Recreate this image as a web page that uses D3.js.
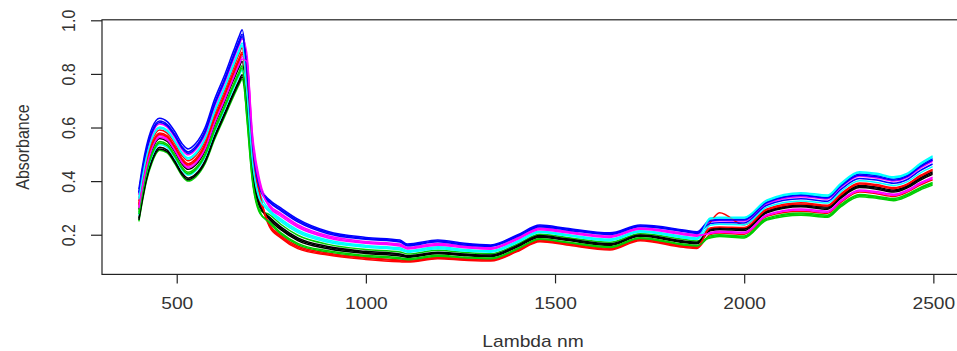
<!DOCTYPE html>
<html>
<head>
<meta charset="utf-8">
<script src="https://cdn.jsdelivr.net/npm/d3@7"></script>
<style>
  html, body { margin: 0; padding: 0; background: #fff; }
  svg { display: block; }
  text { font-family: "Liberation Sans", Arial, Helvetica, sans-serif; fill: #333; }
</style>
</head>
<body>
<svg id="chart" width="957" height="351"></svg>
<script>
// ---- data ----
const wavelengths = [400, 410, 420, 435, 455, 475, 495, 515, 530, 550, 575, 600, 625, 650, 665, 673, 685, 700, 720, 745, 775, 820, 900, 1000, 1090, 1110, 1190, 1260, 1330, 1400, 1460, 1530, 1645, 1725, 1840, 1875, 1910, 1935, 2000, 2060, 2150, 2220, 2255, 2305, 2350, 2395, 2430, 2465, 2498];

const spectrum01 = [0.261, 0.342, 0.412, 0.482, 0.526, 0.516, 0.476, 0.429, 0.411, 0.426, 0.477, 0.569, 0.649, 0.730, 0.776, 0.797,
  0.705, 0.449, 0.313,
  0.257, 0.219, 0.178, 0.148, 0.130, 0.121, 0.116, 0.129, 0.122, 0.118, 0.154, 0.191, 0.179, 0.160, 0.194, 0.171, 0.166,
  0.215, 0.219, 0.216, 0.282, 0.304, 0.295, 0.336, 0.376, 0.370, 0.359, 0.374, 0.403, 0.425];
const spectrum02 = [0.315, 0.401, 0.471, 0.541, 0.580, 0.569, 0.530, 0.483, 0.465, 0.483, 0.539, 0.637, 0.720, 0.808, 0.858, 0.881,
  0.771, 0.498, 0.345,
  0.230, 0.188, 0.148, 0.124, 0.108, 0.099, 0.098, 0.110, 0.105, 0.102, 0.137, 0.174, 0.162, 0.143, 0.178, 0.153, 0.149,
  0.201, 0.206, 0.202, 0.269, 0.288, 0.280, 0.320, 0.359, 0.353, 0.343, 0.358, 0.385, 0.405];
const spectrum03 = [0.250, 0.330, 0.400, 0.470, 0.515, 0.505, 0.465, 0.418, 0.400, 0.415, 0.465, 0.555, 0.635, 0.715, 0.760, 0.780,
  0.662, 0.416, 0.291,
  0.275, 0.239, 0.198, 0.164, 0.145, 0.136, 0.128, 0.142, 0.134, 0.129, 0.165, 0.202, 0.190, 0.172, 0.204, 0.183, 0.177,
  0.188, 0.193, 0.188, 0.255, 0.273, 0.265, 0.304, 0.342, 0.336, 0.327, 0.342, 0.367, 0.385];
const spectrum04 = [0.370, 0.460, 0.530, 0.600, 0.635, 0.622, 0.585, 0.538, 0.520, 0.540, 0.600, 0.705, 0.790, 0.885, 0.940, 0.965,
  0.836, 0.547, 0.378,
  0.330, 0.300, 0.258, 0.212, 0.190, 0.180, 0.165, 0.180, 0.168, 0.162, 0.199, 0.236, 0.224, 0.207, 0.236, 0.218, 0.211,
  0.255, 0.258, 0.258, 0.323, 0.349, 0.340, 0.384, 0.427, 0.421, 0.408, 0.421, 0.457, 0.484];
const spectrum05 = [0.337, 0.425, 0.495, 0.565, 0.602, 0.590, 0.552, 0.505, 0.487, 0.506, 0.563, 0.664, 0.748, 0.839, 0.891, 0.915,
  0.793, 0.515, 0.356,
  0.294, 0.259, 0.218, 0.180, 0.160, 0.151, 0.141, 0.155, 0.145, 0.140, 0.176, 0.213, 0.201, 0.184, 0.215, 0.194, 0.188,
  0.262, 0.265, 0.265, 0.330, 0.357, 0.348, 0.392, 0.435, 0.429, 0.416, 0.429, 0.466, 0.494];
const spectrum06 = [0.348, 0.436, 0.506, 0.576, 0.613, 0.601, 0.563, 0.516, 0.498, 0.517, 0.575, 0.678, 0.762, 0.854, 0.907, 0.931,
  0.880, 0.580, 0.400,
  0.312, 0.280, 0.238, 0.196, 0.175, 0.165, 0.153, 0.167, 0.157, 0.151, 0.188, 0.225, 0.213, 0.195, 0.225, 0.206, 0.200,
  0.249, 0.252, 0.251, 0.316, 0.342, 0.333, 0.376, 0.418, 0.412, 0.400, 0.413, 0.448, 0.474];
const spectrum07 = [0.294, 0.377, 0.447, 0.517, 0.559, 0.548, 0.509, 0.462, 0.444, 0.460, 0.514, 0.610, 0.691, 0.777, 0.825, 0.847,
  0.684, 0.433, 0.302,
  0.266, 0.229, 0.188, 0.156, 0.138, 0.128, 0.122, 0.135, 0.128, 0.124, 0.160, 0.197, 0.185, 0.166, 0.199, 0.177, 0.172,
  0.222, 0.226, 0.223, 0.289, 0.311, 0.303, 0.344, 0.384, 0.378, 0.367, 0.382, 0.412, 0.435];
const spectrum08 = [0.326, 0.413, 0.483, 0.553, 0.591, 0.579, 0.541, 0.494, 0.476, 0.495, 0.551, 0.650, 0.734, 0.823, 0.875, 0.898,
  0.727, 0.465, 0.324,
  0.239, 0.198, 0.158, 0.132, 0.115, 0.106, 0.104, 0.116, 0.111, 0.107, 0.143, 0.180, 0.168, 0.149, 0.183, 0.159, 0.155,
  0.245, 0.282, 0.237, 0.296, 0.319, 0.310, 0.352, 0.393, 0.387, 0.376, 0.389, 0.421, 0.444];
const spectrum09 = [0.283, 0.365, 0.435, 0.505, 0.548, 0.537, 0.498, 0.451, 0.433, 0.449, 0.502, 0.596, 0.677, 0.761, 0.809, 0.830,
  0.640, 0.400, 0.280,
  0.248, 0.208, 0.168, 0.140, 0.123, 0.114, 0.110, 0.123, 0.116, 0.113, 0.148, 0.185, 0.173, 0.155, 0.189, 0.165, 0.160,
  0.195, 0.200, 0.195, 0.262, 0.281, 0.273, 0.312, 0.350, 0.344, 0.335, 0.350, 0.376, 0.395];
const spectrum10 = [0.359, 0.448, 0.518, 0.588, 0.624, 0.611, 0.574, 0.527, 0.509, 0.529, 0.588, 0.691, 0.776, 0.870, 0.924, 0.948,
  0.815, 0.531, 0.367,
  0.321, 0.290, 0.248, 0.204, 0.183, 0.173, 0.159, 0.174, 0.162, 0.157, 0.193, 0.230, 0.218, 0.201, 0.231, 0.212, 0.205,
  0.242, 0.245, 0.244, 0.310, 0.334, 0.325, 0.368, 0.410, 0.404, 0.392, 0.405, 0.439, 0.464];
const spectrum11 = [0.272, 0.354, 0.424, 0.494, 0.537, 0.526, 0.487, 0.440, 0.422, 0.438, 0.490, 0.582, 0.663, 0.746, 0.793, 0.814,
  0.749, 0.482, 0.335,
  0.285, 0.249, 0.208, 0.172, 0.153, 0.143, 0.135, 0.148, 0.139, 0.135, 0.171, 0.208, 0.196, 0.178, 0.210, 0.188, 0.183,
  0.235, 0.239, 0.237, 0.303, 0.326, 0.318, 0.360, 0.401, 0.395, 0.384, 0.397, 0.430, 0.454];
const spectrum12 = [0.305, 0.389, 0.459, 0.529, 0.570, 0.558, 0.520, 0.473, 0.455, 0.472, 0.526, 0.623, 0.705, 0.792, 0.842, 0.864,
  0.858, 0.564, 0.389,
  0.303, 0.269, 0.228, 0.188, 0.168, 0.158, 0.147, 0.161, 0.151, 0.146, 0.182, 0.219, 0.207, 0.190, 0.220, 0.200, 0.194,
  0.208, 0.213, 0.209, 0.275, 0.296, 0.288, 0.328, 0.367, 0.361, 0.351, 0.366, 0.394, 0.415];
const spectrum13 = [0.255, 0.336, 0.406, 0.476, 0.520, 0.510, 0.470, 0.423, 0.405, 0.421, 0.471, 0.562, 0.642, 0.723, 0.768, 0.788,
  0.695, 0.441, 0.307,
  0.262, 0.224, 0.183, 0.152, 0.134, 0.125, 0.119, 0.132, 0.125, 0.121, 0.157, 0.194, 0.182, 0.163, 0.197, 0.174, 0.169,
  0.218, 0.222, 0.220, 0.286, 0.307, 0.299, 0.340, 0.380, 0.374, 0.363, 0.378, 0.408, 0.430];
const spectrum14 = [0.310, 0.395, 0.465, 0.535, 0.575, 0.564, 0.525, 0.478, 0.460, 0.477, 0.532, 0.630, 0.713, 0.800, 0.850, 0.873,
  0.782, 0.506, 0.351,
  0.235, 0.193, 0.153, 0.128, 0.112, 0.103, 0.101, 0.113, 0.108, 0.105, 0.140, 0.177, 0.165, 0.146, 0.181, 0.156, 0.152,
  0.225, 0.229, 0.227, 0.293, 0.315, 0.307, 0.348, 0.389, 0.383, 0.372, 0.386, 0.417, 0.440];
const spectrum15 = [0.277, 0.360, 0.430, 0.500, 0.542, 0.532, 0.492, 0.445, 0.427, 0.443, 0.496, 0.589, 0.670, 0.754, 0.801, 0.822,
  0.651, 0.408, 0.285,
  0.244, 0.203, 0.163, 0.136, 0.119, 0.110, 0.107, 0.120, 0.114, 0.110, 0.146, 0.183, 0.171, 0.152, 0.186, 0.162, 0.158,
  0.191, 0.196, 0.192, 0.258, 0.277, 0.269, 0.308, 0.346, 0.340, 0.331, 0.346, 0.372, 0.390];
const spectrum16 = [0.354, 0.442, 0.512, 0.582, 0.619, 0.606, 0.569, 0.522, 0.504, 0.523, 0.582, 0.685, 0.769, 0.862, 0.915, 0.940,
  0.826, 0.539, 0.373,
  0.325, 0.295, 0.253, 0.208, 0.186, 0.176, 0.162, 0.177, 0.165, 0.159, 0.196, 0.233, 0.221, 0.204, 0.233, 0.215, 0.208,
  0.252, 0.255, 0.255, 0.320, 0.346, 0.337, 0.380, 0.422, 0.416, 0.404, 0.417, 0.453, 0.479];
const spectrum17 = [0.332, 0.419, 0.489, 0.559, 0.597, 0.585, 0.547, 0.500, 0.482, 0.500, 0.557, 0.657, 0.741, 0.831, 0.883, 0.906,
  0.738, 0.474, 0.329,
  0.289, 0.254, 0.213, 0.176, 0.157, 0.147, 0.138, 0.151, 0.142, 0.138, 0.174, 0.211, 0.199, 0.181, 0.212, 0.191, 0.186,
  0.259, 0.262, 0.262, 0.327, 0.353, 0.344, 0.388, 0.431, 0.425, 0.412, 0.425, 0.462, 0.489];
const spectrum18 = [0.299, 0.383, 0.453, 0.523, 0.564, 0.553, 0.514, 0.467, 0.449, 0.466, 0.520, 0.616, 0.698, 0.785, 0.834, 0.856,
  0.847, 0.555, 0.384,
  0.307, 0.275, 0.233, 0.192, 0.171, 0.162, 0.150, 0.164, 0.154, 0.148, 0.185, 0.222, 0.210, 0.193, 0.223, 0.203, 0.197,
  0.205, 0.209, 0.206, 0.272, 0.292, 0.284, 0.324, 0.363, 0.357, 0.347, 0.362, 0.390, 0.410];

const xTicks = [500, 1000, 1500, 2000, 2500];
const yTicks = [0.2, 0.4, 0.6, 0.8, 1.0];
const xTitle = "Lambda nm";
const yTitle = "Absorbance";

// ---- drawing ----
const spectra = [spectrum01, spectrum02, spectrum03, spectrum04, spectrum05, spectrum06,
                 spectrum07, spectrum08, spectrum09, spectrum10, spectrum11, spectrum12,
                 spectrum13, spectrum14, spectrum15, spectrum16, spectrum17, spectrum18];
const palette = ["#000000", "#FF0000", "#00CD00", "#0000FF", "#00FFFF", "#FF00FF"];

const plot = { left: 102, right: 964, top: 19.8, bottom: 274.4 };
const x = d3.scaleLinear().domain([302.5, 2581]).range([plot.left, plot.right]);
const y = d3.scaleLinear().domain([0.052, 1.0]).range([plot.bottom, 20.3]);

const svg = d3.select("#chart");
const SX = 1.2; // horizontal stretch of the reference's text

const line = d3.line()
  .x((d, i) => x(wavelengths[i]))
  .y(d => y(d))
  .curve(d3.curveMonotoneX);

svg.append("defs").append("clipPath").attr("id", "clip")
  .append("rect")
  .attr("x", plot.left).attr("y", plot.top)
  .attr("width", plot.right - plot.left).attr("height", plot.bottom - plot.top);

svg.append("g").attr("clip-path", "url(#clip)")
  .selectAll("path")
  .data(spectra)
  .join("path")
  .attr("d", d => line(d))
  .attr("fill", "none")
  .attr("stroke", (d, i) => palette[i % palette.length])
  .attr("stroke-width", 1.5)
  .attr("stroke-linejoin", "round");

// x axis
const gx = svg.append("g")
  .attr("transform", `translate(0,${plot.bottom})`)
  .call(d3.axisBottom(x).tickValues(xTicks).tickSize(9).tickSizeOuter(0).tickFormat(d3.format("d")));
gx.select(".domain").remove();
gx.selectAll(".tick line").attr("stroke", "#222").attr("stroke-width", 1.2);
gx.selectAll(".tick text")
  .attr("y", 0).attr("dy", 0)
  .attr("transform", `translate(0,35) scale(${SX},1)`)
  .attr("fill", "#333")
  .style("font-size", "16px")
  .style("font-family", '"Liberation Sans", Arial, sans-serif');

// y axis
const gy = svg.append("g")
  .attr("transform", `translate(${plot.left},0)`)
  .call(d3.axisLeft(y).tickValues(yTicks).tickSize(11).tickSizeOuter(0).tickFormat(d3.format(".1f")));
gy.select(".domain").remove();
gy.selectAll(".tick line").attr("stroke", "#222").attr("stroke-width", 1.2);
gy.selectAll(".tick text")
  .attr("x", 0).attr("y", 0).attr("dy", 0)
  .attr("text-anchor", "middle")
  .attr("transform", `translate(-27,0) scale(${SX},1) rotate(-90)`)
  .attr("fill", "#333")
  .style("font-size", "16px")
  .style("font-family", '"Liberation Sans", Arial, sans-serif');

// box
svg.append("rect")
  .attr("x", plot.left).attr("y", plot.top)
  .attr("width", plot.right - plot.left).attr("height", plot.bottom - plot.top)
  .attr("fill", "none").attr("stroke", "#222").attr("stroke-width", 1.2);

// titles
svg.append("text")
  .attr("transform", `translate(${(plot.left + plot.right) / 2},347) scale(${SX},1)`)
  .attr("text-anchor", "middle")
  .style("font-size", "16px")
  .text(xTitle);

svg.append("text")
  .attr("transform", `translate(28.5,${(plot.top + plot.bottom) / 2}) scale(${SX},1) rotate(-90)`)
  .attr("text-anchor", "middle")
  .style("font-size", "16px")
  .text(yTitle);
</script>
</body>
</html>
